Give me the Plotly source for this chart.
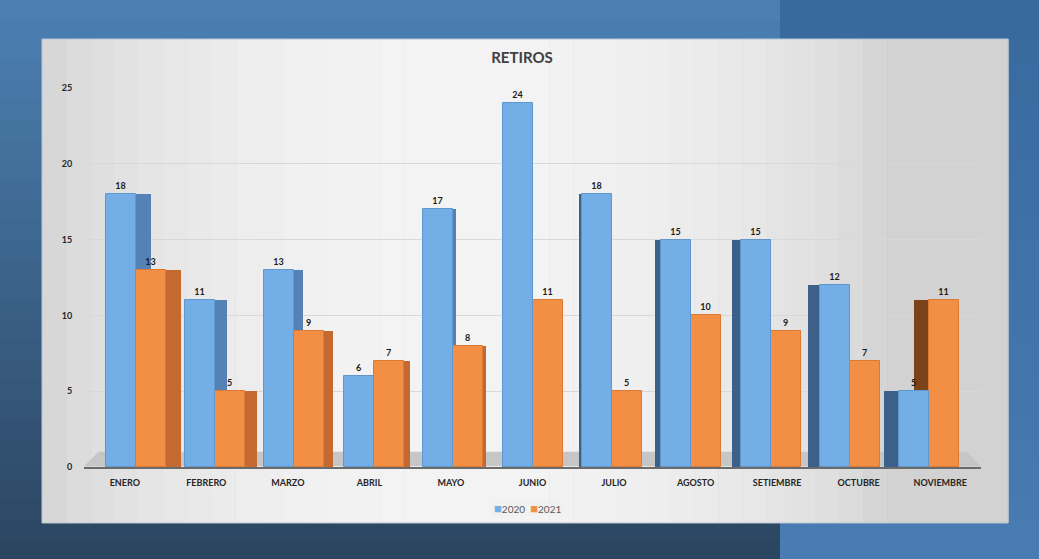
import numpy as np
import plotly.graph_objects as go

months = ["ENERO", "FEBRERO", "MARZO", "ABRIL", "MAYO", "JUNIO", "JULIO",
          "AGOSTO", "SETIEMBRE", "OCTUBRE", "NOVIEMBRE"]
retiros_2020 = [18, 11, 13, 6, 17, 24, 18, 15, 15, 12, 5]
retiros_2021 = [13, 5, 9, 7, 8, 11, 5, 10, 9, 7, 11]
y_ticks = [0, 5, 10, 15, 20, 25]
series_names = ["2020", "2021"]

W, H = 1039, 559
L, R, T, B = 84, 58, 88, 92
PW, PH = W - L - R, H - T - B
FONT = "Lato"

def px_x(p):
    return (p - L) / PW

def px_y(p):
    return (H - B - p) / PH

shapes = []

def rect(x0, y0, x1, y1, color):
    shapes.append(dict(type="rect", xref="paper", yref="paper",
                       x0=px_x(x0), x1=px_x(x1), y0=px_y(y0), y1=px_y(y1),
                       fillcolor=color, line=dict(width=0), layer="below"))

def mix(c0, c1, t):
    return "rgb(%d,%d,%d)" % tuple(int(a + (b - a) * t) for a, b in zip(c0, c1))

# outer background gradients
n = 28
for k in range(n):
    y0 = H * k / n
    y1 = H * (k + 1) / n + 1
    rect(0, y0, 781, y1, mix((76, 128, 178), (44, 70, 98), k / (n - 1)))
    rect(780, y0, W, y1, mix((56, 106, 158), (72, 124, 178), k / (n - 1)))

# light panel gradient
m = 40
px0, px1, py0, py1 = 42, 1008, 39, 523
for k in range(m):
    f = (k + 0.5) / m
    g = 210 + 34 * np.sin(np.pi * min(f * 1.15, 1.0)) ** 0.6
    c = "rgb(%d,%d,%d)" % (g, g, g)
    xa = px0 + (px1 - px0) * k / m
    xb = px0 + (px1 - px0) * (k + 1) / m + 0.6
    rect(xa, py0, xb, py1, c)
shapes.append(dict(type="rect", xref="paper", yref="paper",
                   x0=px_x(px0), x1=px_x(px1), y0=px_y(py1), y1=px_y(py0),
                   fillcolor="rgba(0,0,0,0)", line=dict(color="#b9c6d3", width=1),
                   layer="below"))

# floor of the 3D chart
shapes.append(dict(type="path", xref="x", yref="y",
                   path="M -0.5,0.05 L 10.5,0.05 L 10.32,1.0 L -0.32,1.0 Z",
                   fillcolor="#c6c6c6", line=dict(width=0), layer="below"))

idx = np.arange(len(months))
unit = PW / 11.0                       # pixels per category
w = 30 / unit                          # front face width
shift = (5 - idx) * 2.2 / unit         # perspective shift of the pair
face = (5 - idx) * 3.0 / unit          # side face width (signed)

blue_front = "#74aee6"
orange_front = "#f28f45"
blue_face = ["#5482b6" if f > 0 else "#3d6088" for f in face]
orange_face = ["#c4692f" if f > 0 else "#7c4219" for f in face]

b_face_off = np.where(face > 0, shift, shift - w + face)
o_face_off = np.where(face > 0, shift + w, shift + face)
face_w = np.abs(face) + 1e-6

fig = go.Figure()
fig.add_trace(go.Bar(x=idx, y=retiros_2021, offset=o_face_off, width=face_w,
                     marker=dict(color=orange_face, line=dict(width=0)),
                     showlegend=False, hoverinfo="skip"))
fig.add_trace(go.Bar(x=idx, y=retiros_2020, offset=b_face_off, width=face_w,
                     marker=dict(color=blue_face, line=dict(width=0)),
                     showlegend=False, hoverinfo="skip"))
fig.add_trace(go.Bar(x=idx, y=retiros_2021, offset=shift, width=np.full(11, w),
                     name=series_names[1], showlegend=False,
                     marker=dict(color=orange_front, line=dict(color="#dc7933", width=1)),
                     text=retiros_2021, textposition="outside",
                     textfont=dict(family=FONT, size=9, color="#1a1a1a", weight="bold"),
                     cliponaxis=False))
fig.add_trace(go.Bar(x=idx, y=retiros_2020, offset=shift - w, width=np.full(11, w),
                     name=series_names[0], showlegend=False,
                     marker=dict(color=blue_front, line=dict(color="#5f98cf", width=1)),
                     text=retiros_2020, textposition="outside",
                     textfont=dict(family=FONT, size=9, color="#1a1a1a", weight="bold"),
                     cliponaxis=False))

# compact legend (as in the reference) built from series names and colours
legend_text = ("<span style='color:%s;font-size:13px'>■</span>%s  "
               "<span style='color:%s;font-size:13px'>■</span>%s"
               % (blue_front, series_names[0], orange_front, series_names[1]))
shapes.append(dict(type="rect", xref="paper", yref="paper",
                   x0=px_x(492), x1=px_x(563), y0=px_y(516), y1=px_y(500),
                   fillcolor="rgba(240,240,240,0.7)", line=dict(width=0), layer="below"))

fig.update_layout(
    width=W, height=H,
    margin=dict(l=L, r=R, t=T, b=B),
    paper_bgcolor="#35587e",
    plot_bgcolor="rgba(0,0,0,0)",
    barmode="overlay",
    shapes=shapes,
    showlegend=False,
    annotations=[dict(text=legend_text, xref="paper", yref="paper",
                      x=px_x(527), y=px_y(508), xanchor="center", yanchor="middle",
                      showarrow=False,
                      font=dict(family=FONT, size=10, color="#595959"))],
    title=dict(text="<b>RETIROS</b>", x=px_x(522), xref="paper", xanchor="center",
               y=1 - 58 / H, yref="container", yanchor="middle",
               font=dict(family=FONT, size=15, color="#404040")),
    xaxis=dict(range=[-0.5, 10.5], tickmode="array", tickvals=idx, ticktext=months,
               showgrid=False, zeroline=False, showline=True, linecolor="#6b6b6b",
               linewidth=1.5, ticks="outside", ticklen=6, tickcolor="rgba(0,0,0,0)",
               tickfont=dict(family=FONT, size=9, color="#262626", weight="bold")),
    yaxis=dict(range=[0, 25], tickmode="array", tickvals=y_ticks,
               showgrid=True, gridcolor="#d8d8d8", gridwidth=1, zeroline=False,
               showline=False, ticks="outside", ticklen=9, tickcolor="rgba(0,0,0,0)",
               tickfont=dict(family=FONT, size=9, color="#262626", weight="bold")),
    bargap=0,
)

fig.write_html("out.html", config={"displayModeBar": False},
               post_script="document.body.style.margin='0';")
